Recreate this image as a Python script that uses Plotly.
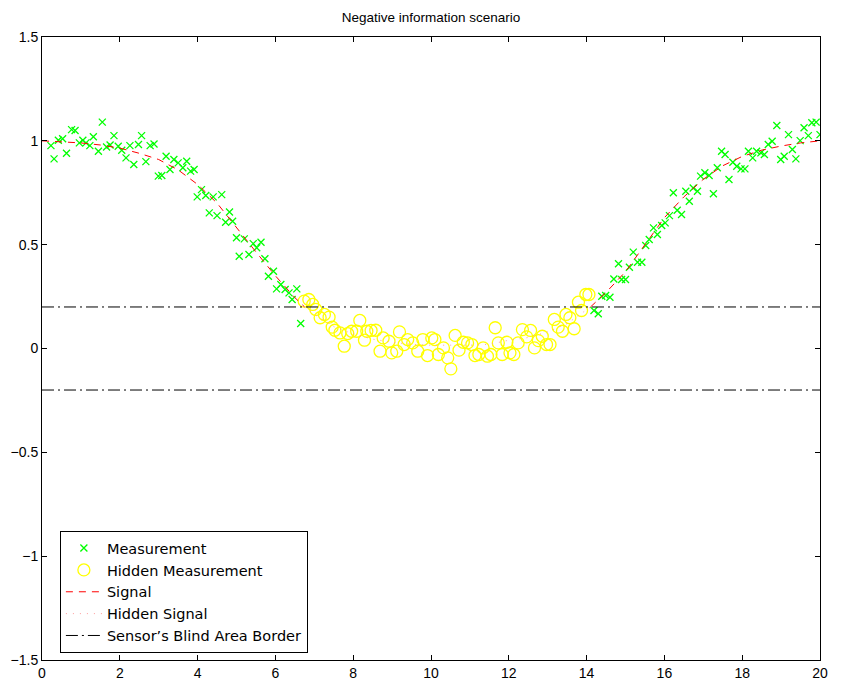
import plotly.graph_objects as go

# ---- data ----
meas_x = [0.23, 0.31, 0.42, 0.53, 0.63, 0.76, 0.85, 0.96, 1.05, 1.13, 1.23, 1.32, 1.45, 1.55, 1.66, 1.75,
          1.85, 1.96, 2.05, 2.16, 2.26, 2.36, 2.48, 2.56, 2.67, 2.78, 2.88, 2.99, 3.08, 3.19, 3.29, 3.39,
          3.50, 3.62, 3.72, 3.82, 3.91, 3.99, 4.10, 4.21, 4.30, 4.40, 4.50, 4.62, 4.72, 4.82, 4.90, 5.00,
          5.07, 5.20, 5.32, 5.43, 5.52, 5.63, 5.73, 5.82, 5.95, 6.03, 6.14, 6.25, 6.35, 6.43, 6.55, 6.65,
          14.19, 14.30, 14.39, 14.49, 14.60, 14.70, 14.82, 14.90, 15.00, 15.10, 15.20, 15.31, 15.42, 15.52,
          15.61, 15.72, 15.82, 15.93, 16.02, 16.13, 16.23, 16.33, 16.44, 16.55, 16.64, 16.74, 16.85, 16.93,
          17.04, 17.15, 17.26, 17.36, 17.47, 17.56, 17.66, 17.76, 17.86, 17.97, 18.07, 18.16, 18.27, 18.37,
          18.48, 18.57, 18.67, 18.77, 18.89, 18.99, 19.08, 19.19, 19.29, 19.38, 19.49, 19.59, 19.70, 19.79,
          19.90, 20.00]
meas_y = [0.977, 0.913, 1.003, 1.01, 0.94, 1.054, 1.05, 0.99, 1.003, 0.99, 0.977, 1.02, 0.95, 1.09, 0.97, 0.98,
          1.025, 0.974, 0.955, 0.918, 0.977, 0.886, 0.982, 1.025, 0.90, 0.977, 0.985, 0.83, 0.833, 0.926, 0.862, 0.91,
          0.894, 0.87, 0.902, 0.854, 0.862, 0.73, 0.765, 0.737, 0.653, 0.73, 0.64, 0.741, 0.608, 0.657, 0.613, 0.533,
          0.444, 0.528, 0.453, 0.505, 0.485, 0.512, 0.432, 0.348, 0.372, 0.287, 0.308, 0.284, 0.268, 0.236, 0.287, 0.12,
          0.183, 0.167, 0.252, 0.255, 0.247, 0.335, 0.408, 0.332, 0.332, 0.391, 0.464, 0.415, 0.415, 0.496,
          0.525, 0.581, 0.549, 0.592, 0.605, 0.64, 0.75, 0.666, 0.645, 0.757, 0.709, 0.773, 0.757, 0.83,
          0.846, 0.833, 0.745, 0.87, 0.95, 0.934, 0.814, 0.897, 0.878, 0.865, 0.865, 0.95, 0.918, 0.95,
          0.942, 0.934, 0.982, 0.998, 1.074, 0.91, 0.926, 1.03, 0.958, 0.913, 1.001, 1.063, 1.025, 1.087,
          1.09, 1.03]

hidden_x = [6.74, 6.86, 6.96, 7.04, 7.15, 7.26, 7.38, 7.46, 7.53, 7.66, 7.77, 7.86, 7.96, 8.09, 8.17, 8.29,
            8.35, 8.46, 8.58, 8.69, 8.77, 8.92, 8.99, 9.12, 9.19, 9.31, 9.40, 9.53, 9.66, 9.79, 9.91, 10.02,
            10.10, 10.19, 10.32, 10.43, 10.51, 10.62, 10.72, 10.83, 10.94, 11.05, 11.13, 11.23, 11.34, 11.45,
            11.54, 11.65, 11.73, 11.83, 11.95, 12.03, 12.13, 12.24, 12.35, 12.46, 12.56, 12.66, 12.76, 12.86,
            12.97, 13.06, 13.17, 13.27, 13.38, 13.47, 13.57, 13.68, 13.79, 13.87, 13.98, 14.06]
hidden_y = [0.228, 0.236, 0.212, 0.188, 0.148, 0.164, 0.151, 0.103, 0.088, 0.075, 0.011, 0.072, 0.083, 0.083, 0.135, 0.04,
            0.083, 0.087, 0.088, -0.013, 0.051, 0.035, -0.021, -0.013, 0.08, 0.019, 0.043, 0.027, -0.013, 0.043, -0.034, 0.051,
            0.043, -0.029, 0.003, -0.045, -0.098, 0.063, -0.008, 0.03, 0.027, 0.019, -0.034, -0.029, 0.003, -0.037,
            -0.029, 0.1, 0.027, -0.029, 0.03, -0.021, -0.029, 0.027, 0.091, 0.056, 0.087, 0.003, 0.038, 0.059,
            0.019, 0.019, 0.14, 0.103, 0.083, 0.164, 0.148, 0.095, 0.223, 0.183, 0.26, 0.26]

signal_x = [0, 0.5, 1, 1.5, 2, 2.5, 3, 3.5, 4, 4.5, 5, 5.5, 6, 6.5, 6.75, 7, 7.5, 8, 8.5, 9, 9.5, 10,
            10.5, 11, 11.5, 12, 12.5, 13, 13.5, 14, 14.1, 14.5, 15, 15.5, 16, 16.5, 17, 17.5, 18, 18.5,
            19, 19.5, 20]
signal_y = [1.0, 0.995, 0.99, 0.98, 0.965, 0.94, 0.91, 0.86, 0.79, 0.70, 0.58, 0.465, 0.35, 0.245, 0.20,
            0.165, 0.105, 0.07, 0.045, 0.03, 0.02, 0.016, 0.016, 0.016, 0.02, 0.04, 0.053, 0.08, 0.12,
            0.185, 0.20, 0.27, 0.37, 0.50, 0.63, 0.73, 0.815, 0.88, 0.925, 0.955, 0.975, 0.99, 1.0]

blind_levels = [0.2, -0.2]
x_range = [0, 20]
y_range = [-1.5, 1.5]
title_text = "Negative information scenario"

# ---- split the signal into visible / hidden parts ----
limit = max(blind_levels)
vis_x, vis_y, hid_x, hid_y = [], [], [], []
for xv, yv in zip(signal_x, signal_y):
    if abs(yv) >= limit:
        vis_x.append(xv); vis_y.append(yv)
    elif vis_x and vis_x[-1] is not None:
        vis_x.append(None); vis_y.append(None)
    if abs(yv) <= limit:
        hid_x.append(xv); hid_y.append(yv)

border_x, border_y = [], []
for lv in blind_levels:
    border_x += [x_range[0], x_range[1], None]
    border_y += [lv, lv, None]

FONT = "Liberation Sans, Arial, Helvetica, sans-serif"
LEG_FONT = "DejaVu Sans, Liberation Sans, sans-serif"

fig = go.Figure()
fig.add_trace(go.Scatter(
    x=meas_x, y=meas_y, mode="markers", name="Measurement",
    marker=dict(symbol="x-thin", size=7, color="#00ff00", line=dict(color="#00ff00", width=1.3)),
))
fig.add_trace(go.Scatter(
    x=hidden_x, y=hidden_y, mode="markers", name="Hidden Measurement",
    marker=dict(symbol="circle-open", size=12, color="#ffff00", line=dict(color="#ffff00", width=1.3)),
))
fig.add_trace(go.Scatter(
    x=vis_x, y=vis_y, mode="lines", name="Signal",
    line=dict(color="#ff0000", width=1, dash="7px,6px"),
))
fig.add_trace(go.Scatter(
    x=hid_x, y=hid_y, mode="lines", name="Hidden Signal",
    line=dict(color="#ff9a9a", width=1, dash="1px,6px"),
))
fig.add_trace(go.Scatter(
    x=border_x, y=border_y, mode="lines", name="Sensor\u2019s Blind Area Border",
    line=dict(color="#000000", width=1, dash="12px,4px,2px,4px"),
))

# page body has an 8px margin, so the figure is sized/offset to land on the reference pixels
fig.update_layout(
    width=847, height=678,
    margin=dict(l=34, r=35, t=29, b=26, autoexpand=False),
    paper_bgcolor="white", plot_bgcolor="white",
    font=dict(family=FONT, size=14, color="black"),
    title=dict(text=title_text, x=0.5, xref="paper", xanchor="center",
               y=1 - 9 / 678, yref="container", yanchor="middle", automargin=False,
               font=dict(family=FONT, size=13.5, color="black")),
    showlegend=True,
    legend=dict(x=0.023, y=0.011, xanchor="left", yanchor="bottom",
                bgcolor="white", bordercolor="black", borderwidth=1,
                font=dict(family=LEG_FONT, size=14.5, color="black"),
                tracegroupgap=0, itemwidth=36),
)
fig.update_xaxes(range=x_range, tick0=0, dtick=2, showgrid=False, zeroline=False, automargin=False,
                 showline=True, linecolor="black", linewidth=1, mirror="ticks",
                 ticks="inside", ticklen=5, tickcolor="black",
                 tickfont=dict(family=FONT, size=14, color="black"))
fig.update_yaxes(range=y_range, tick0=-1.5, dtick=0.5, showgrid=False, zeroline=False, automargin=False,
                 showline=True, linecolor="black", linewidth=1, mirror="ticks",
                 ticks="inside", ticklen=5, tickcolor="black",
                 tickfont=dict(family=FONT, size=14, color="black"))

fig.write_html("out.html")
